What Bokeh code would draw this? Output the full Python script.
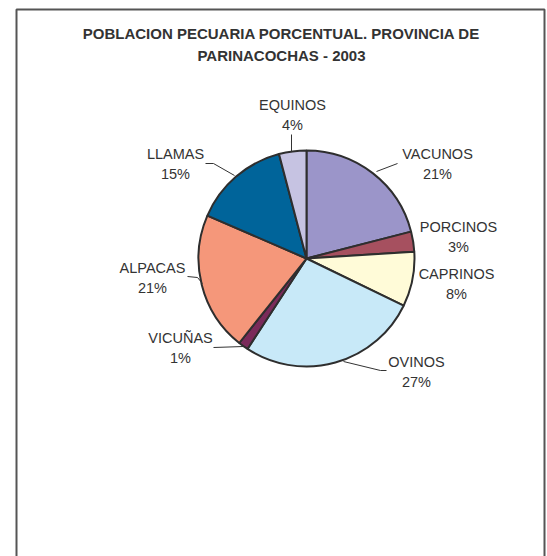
import math
from bokeh.plotting import figure
from bokeh.models import Range1d, ColumnDataSource
from bokeh.core.properties import value
from bokeh.embed import file_html
from bokeh.resources import INLINE

# ---- data ----
categories = ["VACUNOS", "PORCINOS", "CAPRINOS", "OVINOS", "VICUÑAS", "ALPACAS", "LLAMAS", "EQUINOS"]
shares = [21.0, 3.0, 8.2, 27.0, 1.5, 20.8, 14.4, 4.1]
pct_labels = ["21%", "3%", "8%", "27%", "1%", "21%", "15%", "4%"]
colors = ["#9b95c9", "#a6505f", "#fffbd8", "#c8e9f8", "#7a2a5a", "#f5977a", "#00649a", "#c6c3e2"]
title_lines = ["POBLACION PECUARIA PORCENTUAL. PROVINCIA DE", "PARINACOCHAS - 2003"]

# ---- layout (page pixel coordinates) ----
W, H = 547, 556
def dy(y):
    return H - y

cx, cy, r = 306, 258, 108
label_pos = {
    "VACUNOS": (437, 153),
    "PORCINOS": (458, 226),
    "CAPRINOS": (456, 273),
    "OVINOS": (416, 361),
    "VICUÑAS": (180, 337.5),
    "ALPACAS": (152, 267.5),
    "LLAMAS": (175, 153),
    "EQUINOS": (292, 104),
}
leaders = {
    "VACUNOS": [(376, 171), (397, 163)],
    "OVINOS": [(343, 361), (380, 370), (386, 370)],
    "VICUÑAS": [(213, 347), (243, 346)],
    "ALPACAS": [(187, 276), (197, 277), (202, 283)],
    "LLAMAS": [(205, 163), (213, 163), (234, 175)],
    "EQUINOS": [(291, 134), (291, 151)],
}

p = figure(width=W, height=H, x_range=Range1d(0, W), y_range=Range1d(0, H),
           output_backend="svg", toolbar_location=None, min_border=0)
p.axis.visible = False
p.grid.visible = False
p.outline_line_color = None
p.background_fill_color = "white"
p.border_fill_color = "white"

# frame
p.quad(left=[16], right=[544], top=[dy(9)], bottom=[dy(570)], fill_color=None,
       line_color="#555555", line_width=2)

# pie wedges
total = sum(shares)
starts, ends = [], []
cum = 0.0
for s in shares:
    starts.append(math.pi / 2 - 2 * math.pi * cum / total)
    cum += s
    ends.append(math.pi / 2 - 2 * math.pi * cum / total)
src = ColumnDataSource(dict(start=starts, end=ends, color=colors, cat=categories))
p.wedge(x=cx, y=dy(cy), radius=r, start_angle="start", end_angle="end", direction="clock",
        fill_color="color", line_color="#2e2e2e", line_width=2, source=src)

# leader lines
xs, ys = [], []
for cat in categories:
    if cat in leaders:
        pts = leaders[cat]
        xs.append([q[0] for q in pts])
        ys.append([dy(q[1]) for q in pts])
p.multi_line(xs=xs, ys=ys, line_color="#333333", line_width=1)

# labels
lx = [label_pos[c][0] for c in categories]
ly = [dy(label_pos[c][1]) for c in categories]
ly2 = [dy(label_pos[c][1] + 20) for c in categories]
p.text(x=lx, y=ly, text=categories, text_align="center", text_baseline="middle",
       text_font=value("Liberation Sans"), text_font_size="14.5px", text_color="#333333")
p.text(x=lx, y=ly2, text=pct_labels, text_align="center", text_baseline="middle",
       text_font=value("Liberation Sans"), text_font_size="14.5px", text_color="#333333")

# title
p.text(x=[281, 281], y=[dy(33), dy(55)], text=title_lines, text_align="center",
       text_baseline="middle", text_font=value("Liberation Sans"), text_font_size="15px",
       text_font_style="bold", text_color="#333333")

open("out.html", "w").write(file_html(p, INLINE))
